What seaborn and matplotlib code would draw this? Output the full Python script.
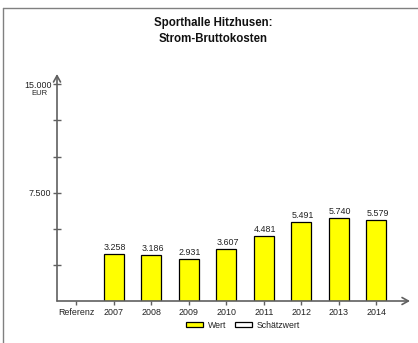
import matplotlib
matplotlib.use("Agg")
import matplotlib.pyplot as plt
import seaborn as sns
import numpy as np
from matplotlib.lines import Line2D
from matplotlib.patches import Patch

# chart data
categories = ["Referenz", "2007", "2008", "2009", "2010", "2011", "2012", "2013", "2014"]
values = [np.nan, 3258, 3186, 2931, 3607, 4481, 5491, 5740, 5579]
ytick_values = [2500, 5000, 7500, 10000, 12500, 15000]
ytick_labels = ["", "", "7.500", "", "", "15.000"]
title = "Sporthalle Hitzhusen:\nStrom-Bruttokosten"
legend_labels = ["Wert", "Schätzwert"]

sns.set_style("white")
plt.rcParams["font.family"] = ["Liberation Sans", "DejaVu Sans"]

W, H = 418, 343
fig = plt.figure(figsize=(W / 100, H / 100), dpi=100)
ax = fig.add_axes([57 / W, (H - 301) / H, 353 / W, 227 / H])

axis_col = "#606060"
txt_col = "#222222"

sns.barplot(x=categories, y=values, order=categories, color="#ffff00",
            saturation=1, width=0.53, edgecolor="black", linewidth=0.9, ax=ax)

ax.set_xlim(-0.515, 8.9)
ax.set_ylim(0, 15713)
for s in ax.spines.values():
    s.set_visible(False)

# axes with arrow heads
ax.annotate("", xy=(0, 1), xytext=(0, 0), xycoords="axes fraction",
            arrowprops=dict(arrowstyle="->,head_length=0.45,head_width=0.25",
                            color=axis_col, lw=1.2, shrinkA=0, shrinkB=0))
ax.annotate("", xy=(1, 0), xytext=(0, 0), xycoords="axes fraction",
            arrowprops=dict(arrowstyle="->,head_length=0.45,head_width=0.25",
                            color=axis_col, lw=1.2, shrinkA=0, shrinkB=0))

ax.set_yticks(ytick_values)
ax.set_yticklabels(ytick_labels)
ax.tick_params(axis="y", direction="inout", length=6, width=1, color=axis_col,
               labelsize=6.4, labelcolor=txt_col, pad=1, left=True)
ax.tick_params(axis="x", direction="out", length=3, width=1, color=axis_col,
               labelsize=6.4, labelcolor=txt_col, pad=2, bottom=True)
ax.set_xlabel("")
ax.set_ylabel("")
ax.grid(False)

# value labels above bars
for i, v in enumerate(values):
    if np.isnan(v):
        continue
    lab = f"{v:,.0f}".replace(",", ".")
    ax.annotate(lab, xy=(i, v), xytext=(1, 1.5), textcoords="offset points",
                ha="center", va="bottom", fontsize=6.4, color=txt_col)

fig.text(39 / W, 1 - 93 / H, "EUR", ha="center", va="center", fontsize=5.5, color=txt_col)

fig.text(213 / W, 1 - 31 / H, title, ha="center", va="center", fontsize=8.3,
         fontweight="bold", color="#111111", linespacing=1.35)

handles = [Patch(facecolor="#ffff00", edgecolor="black", linewidth=0.9),
           Patch(facecolor="white", edgecolor="black", linewidth=0.9)]
fig.legend(handles, legend_labels, loc="center", bbox_to_anchor=(243 / W, 1 - 325 / H),
           ncol=2, frameon=False, fontsize=6.3, handlelength=2.0, handleheight=0.5,
           handletextpad=0.5, columnspacing=1.0, labelcolor=txt_col)

# outer frame (top and left)
fig.add_artist(Line2D([3 / W, 1], [1 - 8 / H, 1 - 8 / H], color="#808080", lw=1))
fig.add_artist(Line2D([3 / W, 3 / W], [0, 1 - 8 / H], color="#808080", lw=1))

fig.savefig("out.png", dpi=100)
